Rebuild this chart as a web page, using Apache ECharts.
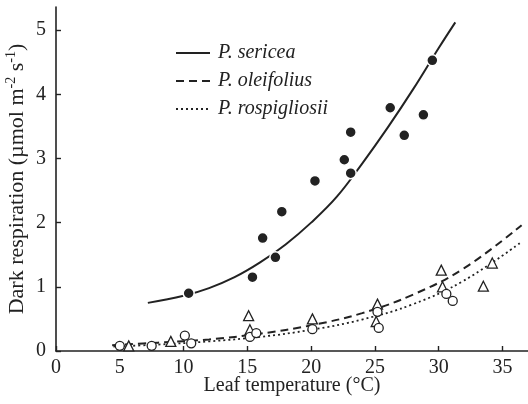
<!DOCTYPE html>
<html><head><meta charset="utf-8">
<script src="https://cdn.jsdelivr.net/npm/echarts@6/dist/echarts.min.js"></script>
<style>html,body{margin:0;padding:0;background:#fff}#c{width:528px;height:404px}</style>
</head><body><div id="c"></div>
<script>
const seriesNames = ['P. sericea', 'P. oleifolius', 'P. rospigliosii'];
const xTicks = [0, 5, 10, 15, 20, 25, 30, 35];
const yTicks = [0, 1, 2, 3, 4, 5];

// measured points
const sericeaPts = [[10.4,0.90],[15.4,1.15],[16.2,1.76],[17.2,1.46],[17.7,2.17],[20.3,2.65],[22.6,2.98],[23.1,2.77],[23.1,3.41],[26.2,3.79],[27.3,3.36],[28.8,3.68],[29.5,4.53]];
const oleifoliusPts = [[5.7,0.08],[9.0,0.15],[15.1,0.55],[15.2,0.33],[20.1,0.50],[25.2,0.73],[25.1,0.46],[30.2,1.26],[30.3,1.00],[33.5,1.01],[34.2,1.37]];
const rospigliosiiPts = [[5.0,0.08],[7.5,0.08],[10.1,0.24],[10.6,0.12],[15.2,0.22],[15.7,0.28],[20.1,0.34],[25.2,0.61],[25.3,0.36],[30.6,0.89],[31.1,0.78]];

// fitted curves
const sericeaFit = [[7.2,0.75],[10,0.86],[12,0.98],[14,1.15],[16,1.38],[18,1.66],[20,2.00],[22,2.40],[24,2.92],[26,3.48],[28,4.08],[30,4.72],[31.3,5.12]];
const oleifoliusFit = [[4.4,0.09],[8,0.13],[12,0.18],[16,0.27],[20,0.40],[24,0.59],[28,0.88],[32,1.29],[36.5,1.96]];
const rospigliosiiFit = [[4.5,0.07],[8,0.10],[12,0.15],[16,0.22],[20,0.33],[24,0.49],[28,0.73],[32,1.10],[36.5,1.70]];

const FONT = 'Liberation Serif';
const INK = '#222';
const NOICON = { color: 'rgba(0,0,0,0)', borderWidth: 0 };

const chart = echarts.init(document.getElementById('c'));
chart.setOption({
  animation: false,
  backgroundColor: '#fff',
  grid: { left: 56, right: 0, top: 7, bottom: 53, containLabel: false, outerBoundsMode: 'none' },
  legend: {
    data: seriesNames,
    orient: 'vertical',
    left: 170, top: 38,
    itemWidth: 34, itemHeight: 14, itemGap: 8,
    textStyle: { fontFamily: FONT, fontStyle: 'italic', fontSize: 20, color: INK, padding: [0,0,0,3] }
  },
  xAxis: {
    type: 'value', min: 0, max: 37, interval: 5,
    name: 'Leaf temperature (°C)', nameLocation: 'middle', nameGap: 25, nameMoveOverlap: false,
    nameTextStyle: { fontFamily: FONT, fontSize: 20, color: INK },
    axisLine: { lineStyle: { color: INK, width: 1.6 } },
    axisTick: { inside: true, length: 5, customValues: xTicks, lineStyle: { color: INK, width: 1.4 } },
    axisLabel: { customValues: xTicks, fontFamily: FONT, fontSize: 20, color: INK, margin: 7 },
    splitLine: { show: false }
  },
  yAxis: {
    type: 'value', min: 0, max: 5.36, interval: 1,
    name: 'Dark respiration (\u00b5mol m{sup|-2} s{sup|-1})', nameLocation: 'middle', nameGap: 26, nameRotate: 90, nameMoveOverlap: false,
    nameTextStyle: { fontFamily: FONT, fontSize: 22, color: INK, lineHeight: 26,
      rich: { sup: { fontFamily: FONT, fontSize: 14, color: INK, verticalAlign: 'top', lineHeight: 14 } } },
    axisLine: { lineStyle: { color: INK, width: 1.6 } },
    axisTick: { inside: true, length: 5, customValues: yTicks, lineStyle: { color: INK, width: 1.4 } },
    axisLabel: { customValues: yTicks, fontFamily: FONT, fontSize: 20, color: INK, margin: 10 },
    splitLine: { show: false }
  },
  series: [
    { name: seriesNames[0], type: 'line', data: sericeaFit, smooth: 0.4, symbol: 'none', z: 2,
      lineStyle: { color: INK, width: 2 }, itemStyle: NOICON },
    { name: seriesNames[1], type: 'line', data: oleifoliusFit, smooth: 0.4, symbol: 'none', z: 2,
      lineStyle: { color: INK, width: 2, type: [8, 5] }, itemStyle: NOICON },
    { name: seriesNames[2], type: 'line', data: rospigliosiiFit, smooth: 0.4, symbol: 'none', z: 2,
      lineStyle: { color: INK, width: 1.8, type: [2, 3] }, itemStyle: NOICON },
    { name: 'sericea data', type: 'scatter', data: sericeaPts, symbol: 'circle', symbolSize: 11, z: 3,
      itemStyle: { color: INK, borderColor: '#fff', borderWidth: 1.5, opacity: 1 } },
    { name: 'oleifolius data', type: 'scatter', data: oleifoliusPts, symbol: 'triangle', symbolSize: 10, z: 3,
      itemStyle: { color: '#fff', borderColor: INK, borderWidth: 1.3, opacity: 1 } },
    { name: 'rospigliosii data', type: 'scatter', data: rospigliosiiPts, symbol: 'circle', symbolSize: 9, z: 3,
      itemStyle: { color: '#fff', borderColor: INK, borderWidth: 1.3, opacity: 1 } }
  ]
});
</script></body></html>
